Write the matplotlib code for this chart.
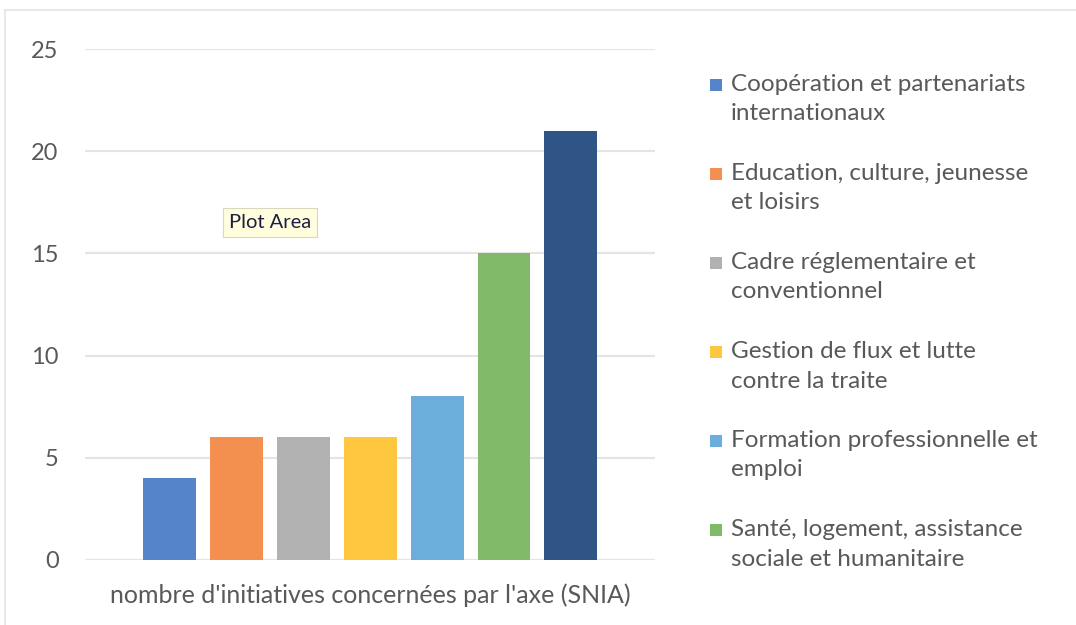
import matplotlib.pyplot as plt
from matplotlib.patches import Rectangle

# Data
categories = [
    "Coopération et partenariats\ninternationaux",
    "Education, culture, jeunesse\net loisirs",
    "Cadre réglementaire et\nconventionnel",
    "Gestion de flux et lutte\ncontre la traite",
    "Formation professionnelle et\nemploi",
    "Santé, logement, assistance\nsociale et humanitaire",
    "Autre",
]
values = [4, 6, 6, 6, 8, 15, 21]
bar_colors = ["#5585C8", "#F3904F", "#B1B1B1", "#FFC740",
              "#6BAEDC", "#80B968", "#2F5586"]
y_ticks = [0, 5, 10, 15, 20, 25]
x_label = "nombre d'initiatives concernées par l'axe (SNIA)"

text_color = "#595959"
grid_color = "#E4E4E4"
W, H = 1076, 625

plt.rcParams['font.family'] = ['Lato', 'DejaVu Sans']

fig = plt.figure(figsize=(W / 100, H / 100), dpi=100)
fig.patch.set_facecolor('white')

# chart frame
fig.patches.append(Rectangle((5 / W, -0.1), 1.2, 1 - 10 / H + 0.1,
                             transform=fig.transFigure, fill=False,
                             edgecolor="#E8E8E8", linewidth=1.5))

ax = fig.add_axes([85 / W, 1 - 560 / H, 570 / W, 511 / H])
ax.set_facecolor('white')

positions = list(range(len(values)))
bars = ax.bar(positions, values, width=0.79, color=bar_colors, zorder=3)

ax.set_ylim(0, 25)
ax.set_xlim(-1.27, len(values) - 1 + 1.26)
ax.set_yticks(y_ticks)
ax.set_xticks([])
ax.tick_params(axis='y', length=0, pad=19, labelsize=17, labelcolor=text_color)
ax.yaxis.grid(True, color=grid_color, linewidth=1.6, zorder=0)
for s in ax.spines.values():
    s.set_visible(False)

ax.set_xlabel(x_label, fontsize=18, color=text_color, labelpad=17)

# tooltip left over in the screenshot
ax.text(0.88, 16.5, "Plot Area", fontsize=14.5, color="#1E1E44",
        ha='left', va='center', zorder=5,
        bbox=dict(boxstyle='square,pad=0.3', facecolor='#FFFFDD',
                  edgecolor='#D8D8C0', linewidth=0.8))

# legend: only the first six series are visible in the source
legend_top = 74
legend_step = 89
for i in range(6):
    y = legend_top + i * legend_step
    fig.patches.append(Rectangle((710 / W, 1 - (y + 17) / H), 12 / W, 12 / H,
                                 transform=fig.transFigure,
                                 facecolor=bar_colors[i], edgecolor='none'))
    fig.text(731 / W, 1 - y / H, categories[i], fontsize=17.5,
             color=text_color, ha='left', va='top', linespacing=1.5)

fig.savefig('out.png', dpi=100, facecolor='white')
